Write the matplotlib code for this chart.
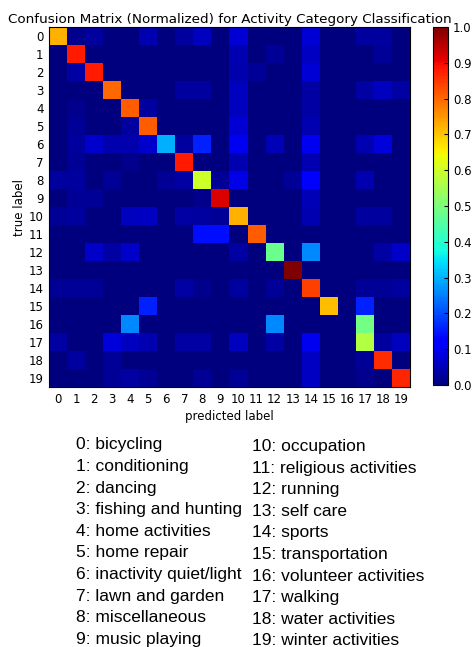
import numpy as np
import matplotlib
matplotlib.use("Agg")
import matplotlib.pyplot as plt

classes = ["bicycling", "conditioning", "dancing", "fishing and hunting",
           "home activities", "home repair", "inactivity quiet/light",
           "lawn and garden", "miscellaneous", "music playing", "occupation",
           "religious activities", "running", "self care", "sports",
           "transportation", "volunteer activities", "walking",
           "water activities", "winter activities"]

diag = [0.72, 0.88, 0.88, 0.80, 0.81, 0.81, 0.30, 0.88, 0.60, 0.92,
        0.72, 0.81, 0.48, 1.00, 0.84, 0.71, 0.00, 0.57, 0.86, 0.87]

# off-diagonal entries: (true row, predicted col, value)
off_rows = [0, 0, 0, 0, 0, 0, 0, 0, 0,
            1, 1, 1, 1,
            2, 2, 2, 2,
            3, 3, 3, 3, 3, 3, 3,
            4, 4, 4, 4,
            5, 5, 5, 5,
            6, 6, 6, 6, 6, 6, 6, 6, 6, 6, 6, 6,
            7, 7, 7, 7,
            8, 8, 8, 8, 8, 8, 8, 8, 8, 8,
            9, 9, 9, 9,
            10, 10, 10, 10, 10, 10, 10, 10, 10, 10,
            11, 11,
            12, 12, 12, 12, 12, 12, 12,
            14, 14, 14, 14, 14, 14, 14, 14, 14, 14,
            15, 15,
            16, 16, 16,
            17, 17, 17, 17, 17, 17, 17, 17, 17, 17, 17,
            18, 18, 18, 18,
            19, 19, 19, 19, 19, 19, 19]
off_cols = [1, 2, 5, 7, 8, 10, 14, 17, 18,
            10, 12, 14, 18,
            1, 10, 11, 14,
            7, 8, 10, 14, 17, 18, 19,
            1, 5, 10, 14,
            1, 4, 10, 14,
            1, 2, 3, 4, 5, 7, 8, 10, 12, 14, 17, 18,
            1, 4, 10, 14,
            0, 1, 3, 6, 7, 9, 10, 13, 14, 17,
            1, 2, 8, 14,
            0, 1, 4, 5, 7, 8, 9, 14, 17, 18,
            8, 9,
            2, 3, 4, 10, 14, 18, 19,
            0, 1, 2, 7, 8, 10, 12, 17, 18, 19,
            5, 17,
            4, 12, 17,
            0, 3, 4, 5, 7, 8, 10, 12, 14, 18, 19,
            1, 3, 14, 17,
            3, 4, 5, 8, 10, 14, 17]
off_vals = [0.015, 0.03, 0.045, 0.03, 0.055, 0.075, 0.075, 0.03, 0.03,
            0.045, 0.02, 0.06, 0.02,
            0.035, 0.04, 0.02, 0.075,
            0.03, 0.03, 0.055, 0.035, 0.035, 0.055, 0.035,
            0.015, 0.03, 0.055, 0.035,
            0.02, 0.03, 0.075, 0.045,
            0.03, 0.07, 0.04, 0.04, 0.07, 0.03, 0.16, 0.10, 0.05, 0.10, 0.045, 0.08,
            0.02, 0.015, 0.045, 0.045,
            0.03, 0.03, 0.02, 0.02, 0.035, 0.02, 0.09, 0.02, 0.12, 0.045,
            0.02, 0.02, 0.015, 0.05,
            0.02, 0.03, 0.055, 0.06, 0.035, 0.03, 0.02, 0.045, 0.03, 0.03,
            0.14, 0.14,
            0.065, 0.035, 0.065, 0.035, 0.26, 0.035, 0.065,
            0.02, 0.02, 0.02, 0.035, 0.015, 0.03, 0.02, 0.02, 0.02, 0.03,
            0.16, 0.16,
            0.26, 0.26, 0.49,
            0.035, 0.08, 0.055, 0.045, 0.035, 0.035, 0.055, 0.035, 0.10, 0.03, 0.055,
            0.03, 0.02, 0.06, 0.02,
            0.02, 0.035, 0.02, 0.02, 0.02, 0.06, 0.015]

n = len(classes)
cm = np.zeros((n, n))
for i, v in enumerate(diag):
    cm[i, i] = v
for r, c, v in zip(off_rows, off_cols, off_vals):
    cm[r, c] = v

W, H = 474, 647
fig = plt.figure(figsize=(W / 100, H / 100), dpi=100)
ax = fig.add_axes([49 / W, 1 - 387 / H, 361 / W, 360 / H])
im = ax.imshow(cm, cmap="jet", vmin=0, vmax=1, interpolation="nearest", aspect="auto")
ax.set_xticks(range(n))
ax.set_yticks(range(n))
ax.set_xticklabels([str(i) for i in range(n)], fontsize=8.5)
ax.set_yticklabels([str(i) for i in range(n)], fontsize=8.5)
ax.tick_params(length=0, pad=4)
ax.set_xlabel("predicted label", fontsize=8.5, labelpad=3)
ax.set_ylabel("true label", fontsize=8.5, labelpad=2)
ax.set_title("Confusion Matrix (Normalized) for Activity Category Classification",
             fontsize=9.7, pad=3)

cax = fig.add_axes([433 / W, 1 - 385 / H, 15 / W, 358 / H])
cb = fig.colorbar(im, cax=cax, ticks=np.linspace(0, 1, 11))
cb.ax.tick_params(labelsize=8.5, direction="in", length=3)
cb.ax.set_yticklabels(["%.1f" % t for t in np.linspace(0, 1, 11)])

col1_x, col2_x = 76 / W, 252 / W
y0, dy = 445, 21.6
for i in range(10):
    y = 1 - (y0 + i * dy) / H
    fig.text(col1_x, y, f"{i}: {classes[i]}", fontsize=12.5,
             family="Liberation Sans", va="center", ha="left")
    fig.text(col2_x, y - 1.5 / H, f"{i + 10}: {classes[i + 10]}", fontsize=12.5,
             family="Liberation Sans", va="center", ha="left")

fig.savefig("out.png", dpi=100)
